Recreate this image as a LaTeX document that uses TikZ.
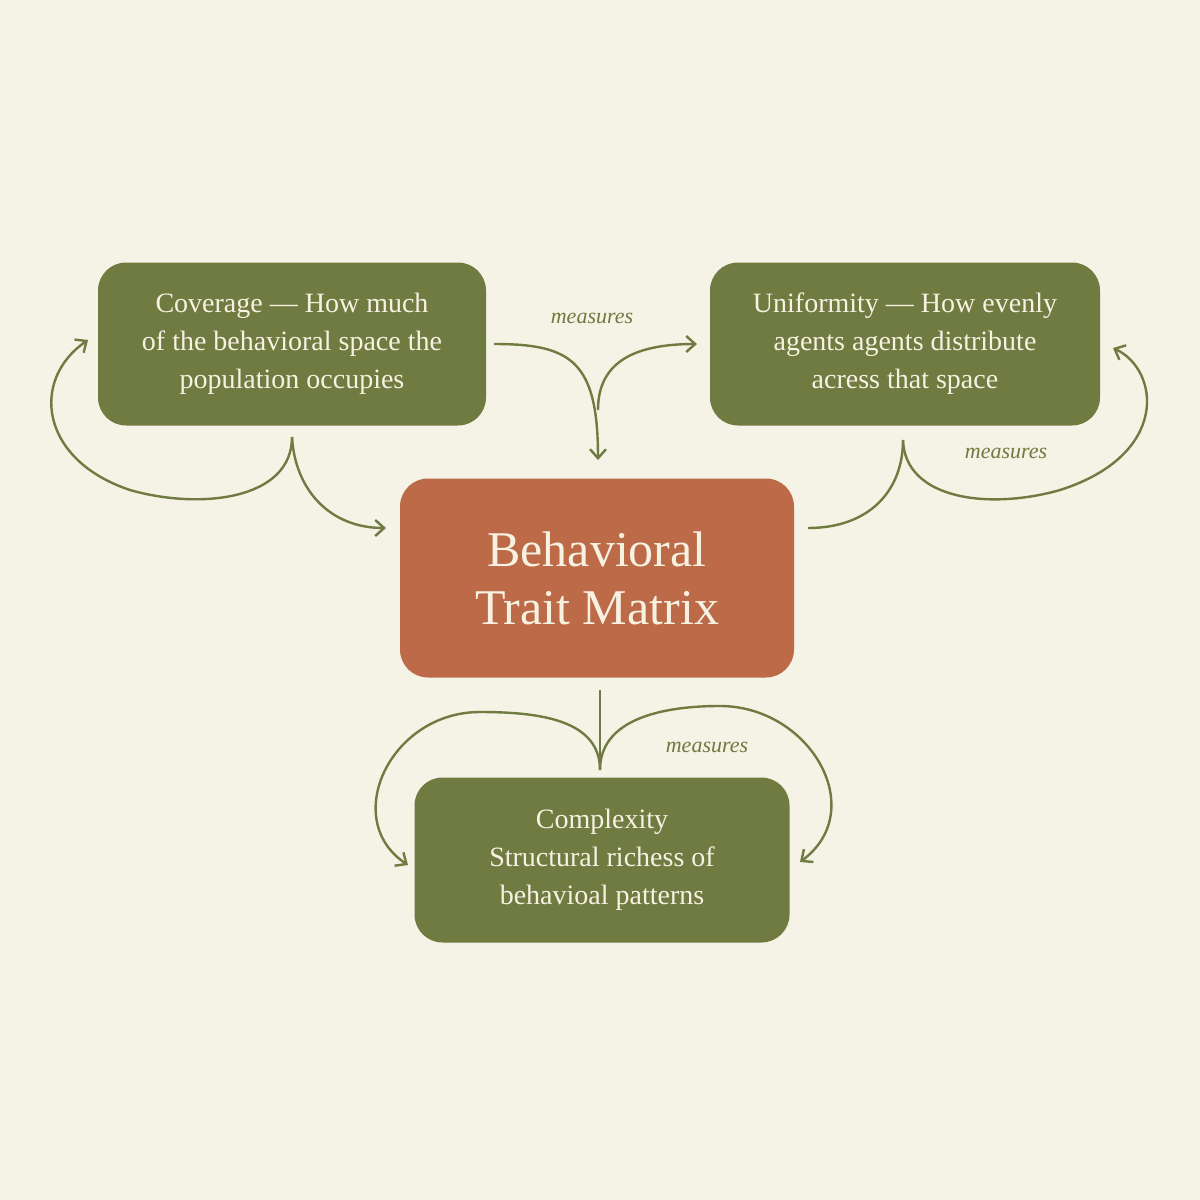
\documentclass[tikz,border=0pt]{standalone}
\usepackage{fontspec}
\setmainfont{Liberation Serif}
\usetikzlibrary{arrows.meta}
\definecolor{bg}{HTML}{F5F2E6}
\definecolor{olive}{HTML}{6F7B40}
\definecolor{rust}{HTML}{BC6A47}
\definecolor{cream}{HTML}{F7F1E2}
\tikzset{
  box/.style={rounded corners=28pt, fill=olive, text=cream, align=center, inner sep=0pt},
  conn/.style={draw=olive, line width=2.4pt, -{Straight Barb[length=9pt,width=16pt,line width=2.4pt]}},
  line/.style={draw=olive, line width=2.4pt},
  lbl/.style={text=olive, font=\fontsize{22}{26}\selectfont\itshape}
}
\begin{document}
\begin{tikzpicture}[x=1pt,y=-1pt]
\fill[bg] (0,0) rectangle (1200,1200);
\useasboundingbox (0,0) rectangle (1200,1200);
\node[box, minimum width=388pt, minimum height=163pt, font=\fontsize{28}{38}\selectfont] (cov) at (292,344) {Coverage — How much\\of the behavioral space the\\population occupies};
\node[box, minimum width=390pt, minimum height=163pt, font=\fontsize{28}{38}\selectfont] (uni) at (905,344) {Uniformity — How evenly\\agents agents distribute\\acress that space};
\node[box, fill=rust, minimum width=394pt, minimum height=199pt, font=\fontsize{50}{58}\selectfont] (btm) at (597,578) {Behavioral\\Trait Matrix};
\node[box, minimum width=375pt, minimum height=165pt, font=\fontsize{28}{38}\selectfont] (cpx) at (602,860) {Complexity\\Structural richess of\\behavioal patterns};
% left loop
\coordinate (l0) at (292,437);
\coordinate (l1) at (88,340);
\coordinate (l2) at (386,528);
\draw[conn] (l0) .. controls (292,500) and (200,510) .. (130,490) .. controls (40,460) and (30,380) .. (l1);
\draw[conn] (l0) .. controls (295,490) and (330,528) .. (l2);
% top middle
\coordinate (t0) at (494,344);
\coordinate (t1) at (598,460);
\coordinate (t2) at (697,344);
\draw[conn] (t0) .. controls (570,344) and (598,360) .. (t1);
\draw[conn] (598,410) .. controls (598,365) and (630,344) .. (t2);
\node[lbl] (m1) at (592,318) {measures};
% right
\coordinate (r0) at (808,528);
\coordinate (r1) at (903,440);
\coordinate (r2) at (1113,348);
\draw[line] (r0) .. controls (870,528) and (903,490) .. (r1);
\draw[conn] (r1) .. controls (905,500) and (990,510) .. (1060,490) .. controls (1170,455) and (1160,370) .. (r2);
\node[lbl] (m2) at (1006,453) {measures};
% bottom
\coordinate (b0) at (600,690);
\coordinate (b1) at (600,770);
\coordinate (bl) at (408,865);
\coordinate (br) at (800,862);
\draw[line] (b0) -- (b1);
\draw[conn] (b1) .. controls (600,720) and (540,712) .. (480,712) .. controls (390,712) and (340,820) .. (bl);
\draw[conn] (b1) .. controls (600,720) and (660,706) .. (720,706) .. controls (810,706) and (870,810) .. (br);
\node[lbl] (m3) at (707,747) {measures};
\end{tikzpicture}
\end{document}
